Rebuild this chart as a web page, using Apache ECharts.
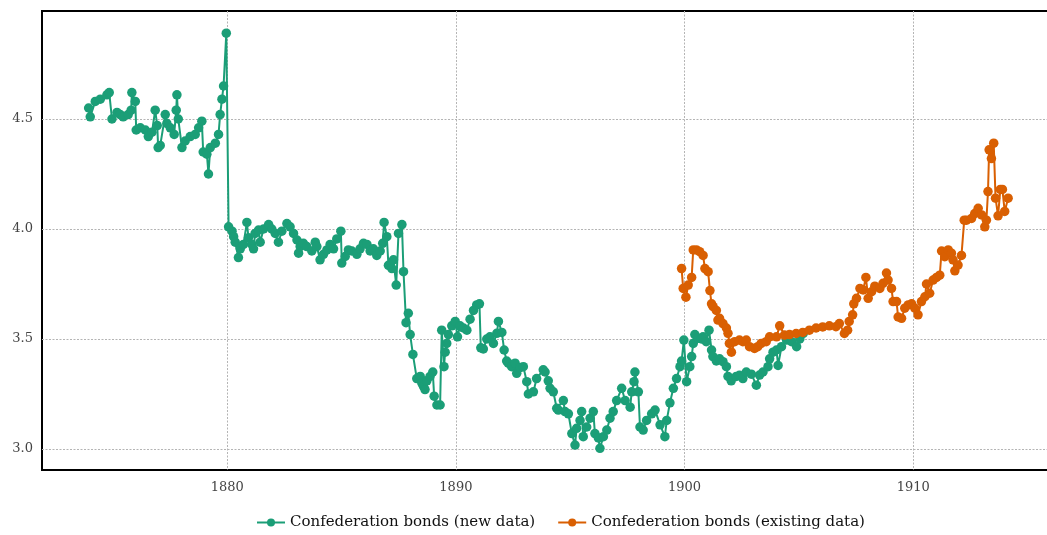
<!DOCTYPE html>
<html>
<head>
<meta charset="utf-8">
<title>Confederation bonds</title>
<script src="https://cdn.jsdelivr.net/npm/echarts@6/dist/echarts.min.js"></script>
<style>
  html, body { margin: 0; padding: 0; background: #fff; }
  #chart { width: 1047px; height: 535px; }
</style>
</head>
<body>
<div id="chart"></div>
<script>
// Yields of Confederation bonds, [year, yield in %]
const newData1870s = [
  [1873.94, 4.55], [1874.01, 4.51], [1874.23, 4.58], [1874.45, 4.59], [1874.74, 4.61],
  [1874.84, 4.62], [1874.96, 4.50], [1875.18, 4.53], [1875.32, 4.52], [1875.45, 4.51],
  [1875.67, 4.52], [1875.80, 4.54], [1875.83, 4.62], [1875.98, 4.58], [1876.02, 4.45],
  [1876.20, 4.46], [1876.42, 4.45], [1876.55, 4.42], [1876.71, 4.44], [1876.85, 4.54],
  [1876.94, 4.47], [1876.98, 4.37], [1877.07, 4.38], [1877.29, 4.52], [1877.36, 4.48],
  [1877.51, 4.46], [1877.68, 4.43], [1877.77, 4.54], [1877.80, 4.61], [1877.86, 4.50],
  [1878.02, 4.37], [1878.16, 4.40], [1878.38, 4.42], [1878.60, 4.43], [1878.75, 4.46],
  [1878.89, 4.49], [1878.95, 4.35], [1879.11, 4.34], [1879.18, 4.25], [1879.26, 4.37],
  [1879.48, 4.39], [1879.62, 4.43], [1879.69, 4.52], [1879.77, 4.59], [1879.84, 4.65],
  [1879.96, 4.89]
];

const newData1880s = [
  [1880.06, 4.01], [1880.21, 3.99], [1880.28, 3.965], [1880.35, 3.94], [1880.49, 3.87],
  [1880.57, 3.91], [1880.71, 3.93], [1880.86, 4.03], [1880.93, 3.96], [1881.08, 3.93],
  [1881.15, 3.91], [1881.22, 3.98], [1881.37, 3.995], [1881.44, 3.94], [1881.59, 4.00],
  [1881.81, 4.02], [1881.95, 4.00], [1882.10, 3.98], [1882.24, 3.94], [1882.39, 3.99],
  [1882.61, 4.025], [1882.75, 4.01], [1882.90, 3.98], [1883.05, 3.95], [1883.12, 3.89],
  [1883.19, 3.92], [1883.33, 3.935], [1883.48, 3.92], [1883.70, 3.90], [1883.85, 3.94],
  [1883.92, 3.92], [1884.06, 3.86], [1884.21, 3.885], [1884.36, 3.905], [1884.50, 3.93],
  [1884.65, 3.91], [1884.79, 3.955], [1884.97, 3.99], [1885.01, 3.845], [1885.16, 3.875],
  [1885.30, 3.905], [1885.45, 3.90], [1885.67, 3.885], [1885.81, 3.91], [1885.96, 3.935],
  [1886.11, 3.93], [1886.25, 3.90], [1886.39, 3.91], [1886.54, 3.88], [1886.69, 3.90],
  [1886.80, 3.935], [1886.86, 4.03], [1886.98, 3.965], [1887.05, 3.835], [1887.20, 3.82],
  [1887.27, 3.86], [1887.39, 3.745], [1887.49, 3.98], [1887.64, 4.02], [1887.71, 3.806],
  [1887.82, 3.574], [1887.92, 3.617], [1888.00, 3.52], [1888.12, 3.43], [1888.29, 3.32],
  [1888.44, 3.33], [1888.51, 3.30], [1888.58, 3.285], [1888.65, 3.27], [1888.73, 3.31],
  [1888.87, 3.33], [1888.99, 3.35], [1889.05, 3.24], [1889.17, 3.20], [1889.31, 3.20],
  [1889.38, 3.54], [1889.48, 3.374], [1889.53, 3.44], [1889.60, 3.48], [1889.67, 3.52],
  [1889.82, 3.56], [1889.97, 3.58]
];

const newData1890s = [
  [1890.07, 3.51], [1890.18, 3.56], [1890.33, 3.55], [1890.48, 3.54], [1890.62, 3.59],
  [1890.77, 3.63], [1890.91, 3.655], [1891.03, 3.66], [1891.09, 3.46], [1891.20, 3.455],
  [1891.35, 3.50], [1891.49, 3.51], [1891.64, 3.48], [1891.79, 3.526], [1891.86, 3.58],
  [1892.01, 3.53], [1892.11, 3.45], [1892.22, 3.40], [1892.29, 3.39], [1892.44, 3.374],
  [1892.59, 3.39], [1892.66, 3.344], [1892.81, 3.37], [1892.95, 3.374], [1893.10, 3.306],
  [1893.17, 3.25], [1893.39, 3.26], [1893.53, 3.32], [1893.82, 3.36], [1893.90, 3.35],
  [1894.04, 3.31], [1894.12, 3.276], [1894.26, 3.26], [1894.41, 3.185], [1894.48, 3.177],
  [1894.70, 3.22], [1894.77, 3.17], [1894.92, 3.16], [1895.07, 3.07], [1895.21, 3.018],
  [1895.28, 3.094], [1895.43, 3.13], [1895.50, 3.17], [1895.57, 3.056], [1895.72, 3.10],
  [1895.87, 3.14], [1896.01, 3.17], [1896.08, 3.07], [1896.23, 3.05], [1896.30, 3.003],
  [1896.45, 3.056], [1896.60, 3.086], [1896.74, 3.14], [1896.88, 3.17], [1897.03, 3.22],
  [1897.25, 3.276], [1897.40, 3.22], [1897.62, 3.19], [1897.69, 3.26], [1897.79, 3.306],
  [1897.83, 3.35], [1897.98, 3.26], [1898.05, 3.10], [1898.19, 3.086], [1898.34, 3.13],
  [1898.56, 3.16], [1898.71, 3.177], [1898.93, 3.11], [1899.14, 3.056], [1899.22, 3.13],
  [1899.36, 3.21], [1899.51, 3.276], [1899.65, 3.32], [1899.80, 3.374], [1899.87, 3.40],
  [1899.97, 3.495]
];

const newData1900s = [
  [1900.09, 3.306], [1900.23, 3.374], [1900.31, 3.42], [1900.38, 3.48], [1900.45, 3.52],
  [1900.59, 3.503], [1900.74, 3.50], [1900.81, 3.51], [1900.95, 3.488], [1901.07, 3.54],
  [1901.18, 3.45], [1901.24, 3.42], [1901.39, 3.40], [1901.53, 3.41], [1901.68, 3.397],
  [1901.83, 3.374], [1901.90, 3.33], [1902.04, 3.31], [1902.26, 3.33], [1902.40, 3.335],
  [1902.55, 3.32], [1902.70, 3.35], [1902.92, 3.34], [1903.14, 3.29], [1903.28, 3.336],
  [1903.43, 3.35], [1903.65, 3.374], [1903.72, 3.41], [1903.87, 3.44], [1904.02, 3.45],
  [1904.09, 3.38], [1904.24, 3.465], [1904.46, 3.495], [1904.68, 3.488], [1904.90, 3.465],
  [1905.04, 3.50], [1905.19, 3.525]
];

const existingData1900s = [
  [1899.87, 3.82], [1899.94, 3.73], [1900.06, 3.69], [1900.16, 3.745], [1900.31, 3.78],
  [1900.38, 3.905], [1900.52, 3.905], [1900.66, 3.897], [1900.81, 3.88], [1900.89, 3.82],
  [1901.03, 3.806], [1901.11, 3.72], [1901.18, 3.66], [1901.25, 3.647], [1901.39, 3.63],
  [1901.46, 3.586], [1901.53, 3.594], [1901.68, 3.57], [1901.83, 3.55], [1901.90, 3.526],
  [1901.96, 3.48], [1902.05, 3.44], [1902.19, 3.488], [1902.40, 3.495], [1902.55, 3.488],
  [1902.70, 3.495], [1902.84, 3.465], [1903.06, 3.457], [1903.20, 3.465], [1903.35, 3.48],
  [1903.57, 3.488], [1903.72, 3.51], [1904.02, 3.51], [1904.16, 3.56], [1904.37, 3.518],
  [1904.59, 3.52], [1904.88, 3.525], [1905.17, 3.53], [1905.46, 3.54], [1905.75, 3.55],
  [1906.04, 3.555], [1906.33, 3.56], [1906.62, 3.556], [1906.77, 3.57], [1906.99, 3.525],
  [1907.13, 3.54], [1907.20, 3.58], [1907.35, 3.61], [1907.40, 3.66], [1907.52, 3.685],
  [1907.67, 3.73], [1907.81, 3.723], [1907.93, 3.78], [1908.03, 3.685], [1908.18, 3.715],
  [1908.32, 3.74], [1908.54, 3.73], [1908.68, 3.753], [1908.83, 3.80], [1908.90, 3.768],
  [1909.05, 3.73], [1909.12, 3.67], [1909.27, 3.67], [1909.34, 3.60], [1909.49, 3.594],
  [1909.63, 3.64], [1909.78, 3.655], [1909.93, 3.66]
];

const existingData1910s = [
  [1910.07, 3.64], [1910.21, 3.61], [1910.36, 3.67], [1910.51, 3.692], [1910.58, 3.75],
  [1910.72, 3.708], [1910.87, 3.768], [1911.02, 3.78], [1911.16, 3.79], [1911.24, 3.90],
  [1911.38, 3.874], [1911.53, 3.905], [1911.67, 3.89], [1911.74, 3.86], [1911.82, 3.81],
  [1911.96, 3.836], [1912.11, 3.88], [1912.23, 4.04], [1912.33, 4.04], [1912.55, 4.048],
  [1912.69, 4.07], [1912.84, 4.094], [1912.99, 4.064], [1913.13, 4.01], [1913.20, 4.04],
  [1913.27, 4.17], [1913.32, 4.36], [1913.42, 4.32], [1913.52, 4.39], [1913.60, 4.14],
  [1913.71, 4.06], [1913.81, 4.18], [1913.90, 4.18], [1914.00, 4.08], [1914.15, 4.14]
];

const seriesNames = ['Confederation bonds (new data)', 'Confederation bonds (existing data)'];
const seriesColors = ['#1b9e77', '#d95f02'];
const yearTicks = [1880, 1890, 1900, 1910];
const yieldTicks = [3.0, 3.5, 4.0, 4.5];

const newData = [].concat(newData1870s, newData1880s, newData1890s, newData1900s);
const existingData = [].concat(existingData1900s, existingData1910s);

const FONT = 'DejaVu Serif';
const gridLine = { show: true, lineStyle: { color: '#b4b4b4', width: 1, type: [2, 1.5] } };

function lineSeries(name, color, data) {
  return {
    name: name,
    type: 'line',
    data: data,
    symbol: 'circle',
    symbolSize: 9.5,
    showAllSymbol: true,
    color: color,
    itemStyle: { color: color },
    lineStyle: { color: color, width: 2 },
    emphasis: { disabled: true },
    animation: false
  };
}

const chart = echarts.init(document.getElementById('chart'), null, { renderer: 'canvas' });
chart.setOption({
  backgroundColor: '#ffffff',
  animation: false,
  textStyle: { fontFamily: FONT },
  grid: {
    show: true,
    left: 42, top: 11, width: 1013, height: 459,
    borderColor: '#000', borderWidth: 2,
    backgroundColor: 'transparent',
    containLabel: false,
    outerBoundsMode: 'none'
  },
  xAxis: {
    type: 'value',
    min: 1871.9, max: 1916.2,
    axisLine: { show: false },
    axisTick: { show: false, customValues: yearTicks },
    axisLabel: {
      customValues: yearTicks, margin: 11,
      fontFamily: FONT, fontSize: 13, color: '#444',
      formatter: v => String(v)
    },
    splitLine: gridLine
  },
  yAxis: {
    type: 'value',
    min: 2.9045, max: 4.991,
    axisLine: { show: false },
    axisTick: { show: false, customValues: yieldTicks },
    axisLabel: {
      customValues: yieldTicks, margin: 9,
      fontFamily: FONT, fontSize: 13, color: '#444',
      formatter: v => v.toFixed(1)
    },
    splitLine: gridLine
  },
  legend: {
    data: seriesNames,
    left: 251, top: 510,
    itemWidth: 28, itemHeight: 10, itemGap: 22,
    textStyle: { fontFamily: FONT, fontSize: 15, color: '#111' }
  },
  series: [
    lineSeries(seriesNames[0], seriesColors[0], newData),
    lineSeries(seriesNames[1], seriesColors[1], existingData)
  ]
});
</script>
</body>
</html>
